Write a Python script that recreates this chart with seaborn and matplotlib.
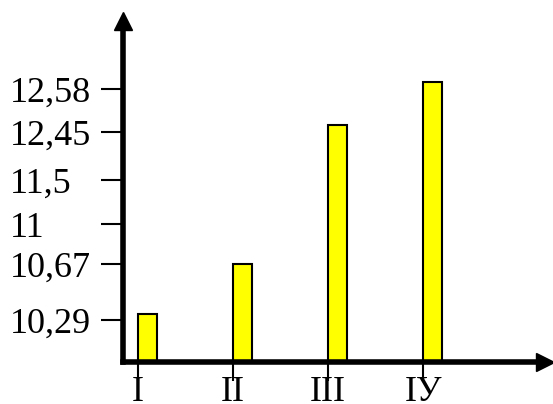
import numpy as np
import matplotlib
matplotlib.use("Agg")
import matplotlib.pyplot as plt
import seaborn as sns

# data
categories = ["I", "II", "III", "IУ"]
values = [10.33, 10.67, 12.47, 12.60]
tick_values = [10.29, 10.67, 11, 11.5, 12.45, 12.58]
tick_labels = ["10,29", "10,67", "11", "11,5", "12,45", "12,58"]

# hand-drawn axis: ticks are not evenly spaced in value, so map them piecewise
scale_vals = np.array([10.0] + tick_values)
scale_pos = np.array([0, 42, 98, 138, 182, 230, 273], dtype=float)


def fwd(v):
    v = np.asarray(v, dtype=float)
    out = np.interp(v, scale_vals, scale_pos)
    lo = (scale_pos[1] - scale_pos[0]) / (scale_vals[1] - scale_vals[0])
    hi = (scale_pos[-1] - scale_pos[-2]) / (scale_vals[-1] - scale_vals[-2])
    out = np.where(v < scale_vals[0], scale_pos[0] + (v - scale_vals[0]) * lo, out)
    out = np.where(v > scale_vals[-1], scale_pos[-1] + (v - scale_vals[-1]) * hi, out)
    return out


def inv(p):
    p = np.asarray(p, dtype=float)
    out = np.interp(p, scale_pos, scale_vals)
    lo = (scale_vals[1] - scale_vals[0]) / (scale_pos[1] - scale_pos[0])
    hi = (scale_vals[-1] - scale_vals[-2]) / (scale_pos[-1] - scale_pos[-2])
    out = np.where(p < scale_pos[0], scale_vals[0] + (p - scale_pos[0]) * lo, out)
    out = np.where(p > scale_pos[-1], scale_vals[-1] + (p - scale_pos[-1]) * hi, out)
    return out


sns.set_style("white")
plt.rcParams["font.family"] = ["Liberation Serif", "DejaVu Serif"]

fig = plt.figure(figsize=(5.53, 4.04), dpi=100)
ax = fig.add_axes([123 / 553, 1 - 362 / 404, (545 - 123) / 553, (362 - 21) / 404])

sns.barplot(x=categories, y=values, color="#ffff00", saturation=1,
            edgecolor="black", linewidth=1.5, width=0.2, ax=ax)

ax.set_yscale("function", functions=(fwd, inv))
ax.set_ylim(10.0, float(inv(341)))
ax.set_xlim(-0.258, 4.18)

ax.set_yticks(tick_values)
ax.set_yticklabels(tick_labels, ha="left")
ax.set_xticks(np.arange(len(categories)) - 0.1)
ax.set_xticklabels(categories)
ax.minorticks_off()
ax.tick_params(axis="y", direction="out", length=16, width=1.5, pad=65.5,
               labelsize=26, left=True, colors="black")
ax.tick_params(axis="x", direction="out", length=14, width=1.5, pad=-4,
               labelsize=26, bottom=True, colors="black")

for side in ["top", "right"]:
    ax.spines[side].set_visible(False)
for side in ["left", "bottom"]:
    ax.spines[side].set_linewidth(4)
    ax.spines[side].set_color("black")

# axis arrows
ax.plot(0, 1, "^k", markersize=13, transform=ax.transAxes, clip_on=False)
ax.plot(1, 0, ">k", markersize=13, transform=ax.transAxes, clip_on=False)

ax.set_xlabel("")
ax.set_ylabel("")
fig.savefig("out.png", dpi=100)
